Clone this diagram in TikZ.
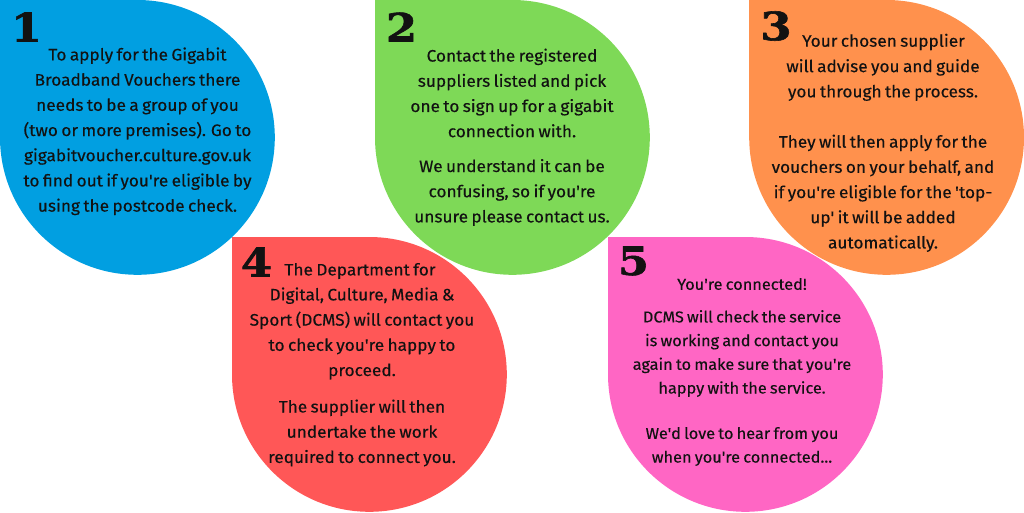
\documentclass[tikz,border=0pt]{standalone}
\usepackage{fontspec}
\setmainfont{Fira Sans}[Ligatures=TeXOff,FakeBold=0.25,FakeStretch=1.04,WordSpace=0.74]
\newfontfamily\numfont{DejaVu Serif Bold}[FakeBold=1.5,FakeStretch=1.15]
\definecolor{cblue}{HTML}{019FE1}
\definecolor{cgreen}{HTML}{7ED957}
\definecolor{corange}{HTML}{FF914D}
\definecolor{cred}{HTML}{FF5757}
\definecolor{cpink}{HTML}{FF66C4}
\definecolor{ink}{HTML}{121212}
\newcommand{\drop}[3]{\fill[#1] (#2,#3) -- (#2+137.4,#3) arc[start angle=-90,end angle=180,radius=137.4] -- cycle;}
\tikzset{
 body/.style={text=ink,align=center,inner sep=0pt,font=\fontsize{16.6}{25.2}\selectfont},
 small/.style={text=ink,align=center,inner sep=0pt,font=\fontsize{15.7}{23.7}\selectfont},
 numeral/.style={text=ink,inner sep=0pt,font=\fontsize{39}{39}\numfont}
}
\begin{document}
\begin{tikzpicture}[x=1pt,y=-1pt]
\useasboundingbox (0,0) rectangle (1024,512);
\drop{cblue}{0}{0}
\drop{cgreen}{375}{0}
\drop{corange}{749.2}{0}
\drop{cred}{232}{237}
\drop{cpink}{608}{237}
\node[numeral] (n1) at (26.5,27) {1};
\node[numeral] (n2) at (401.5,27) {2};
\node[numeral] (n3) at (776,26) {3};
\node[numeral] (n4) at (256.5,262) {4};
\node[numeral] (n5) at (633.5,261) {5};
\node[body] (t1) at (137.5,131.3) {To apply for the Gigabit\\Broadband Vouchers there\\needs to be a group of you\\(two or more premises). Go to\\gigabitvoucher.culture.gov.uk\\to find out if you're eligible by\\using the postcode check.};
\node[body] (t2a) at (512,93) {Contact the registered\\suppliers listed and pick\\one to sign up for a gigabit\\connection with.};
\node[body] (t2b) at (512,192.5) {We understand it can be\\confusing, so if you're\\unsure please contact us.};
\node[body] (t3a) at (883.5,42) {Your chosen supplier};
\node[body] (t3b) at (883,80) {will advise you and guide\\you through the process.};
\node[body] (t3c) at (883,193.3) {They will then apply for the\\vouchers on your behalf, and\\if you're eligible for the 'top-\\up' it will be added\\automatically.};
\node[body] (t4a) at (360,271) {The Department for};
\node[body] (t4b) at (362,333.5) {Digital, Culture, Media \&\\Sport (DCMS) will contact you\\to check you're happy to\\proceed.};
\node[body] (t4c) at (362,433) {The supplier will then\\undertake the work\\required to connect you.};
\node[small] (t5a) at (742,284) {You're connected!};
\node[small] (t5b) at (742,353.5) {DCMS will check the service\\is working and contact you\\again to make sure that you're\\happy with the service.};
\node[small] (t5c) at (742,446.5) {We'd love to hear from you\\when you're connected...};
\end{tikzpicture}
\end{document}
